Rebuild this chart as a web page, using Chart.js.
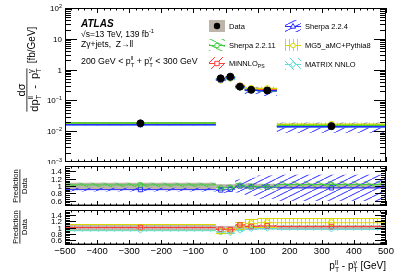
<!DOCTYPE html>
<html>
<head>
<meta charset="utf-8">
<script src="https://cdn.jsdelivr.net/npm/chart.js@4.4.1/dist/chart.umd.min.js"></script>
<style>
  body { margin: 0; background: #fff; width: 407px; height: 276px; overflow: hidden; position: relative; }
  canvas { position: absolute; left: 0; }
</style>
</head>
<body>
<canvas id="cMain" width="407" height="164" style="top:0"></canvas>
<canvas id="cR1" width="407" height="50" style="top:161px"></canvas>
<canvas id="cR2" width="407" height="71" style="top:205px"></canvas>
<script>
// bins of pT(ll) - pT(gamma) [GeV]
const binEdges = [-500, -30, 0, 30, 60, 100, 160, 500];

// main panel, dsigma/dx [fb/GeV]
const dataVals = [0.018, 0.52, 0.59, 0.28, 0.22, 0.21, 0.0146];
const dataErr = [0.09, 0.05, 0.05, 0.06, 0.07, 0.06, 0.07];
const sherpa224Vals = [0.0163, 0.46, 0.54, 0.28, 0.215, 0.205, 0.0139];
const sherpa2211Vals = [0.0185, 0.49, 0.57, 0.285, 0.218, 0.206, 0.0152];
const mg5Vals = [0.018, 0.45, 0.53, 0.294, 0.246, 0.242, 0.0168];
const minnloVals = [0.018, 0.49, 0.55, 0.302, 0.227, 0.22, 0.015];
const matrixVals = [0.0162, 0.45, 0.48, 0.252, 0.209, 0.2, 0.0137];

// ratio panels, prediction / data
const sherpa224Ratio = [0.90, 0.89, 0.91, 1.00, 0.98, 0.97, 0.95];
const sherpa224Err = [0.05, 0.08, 0.10, 0.18, 0.25, 0.32, 0.36];
const sherpa2211Ratio = [1.03, 0.95, 0.96, 1.02, 0.99, 0.98, 1.04];
const sherpa2211Err = [0.06, 0.06, 0.06, 0.07, 0.08, 0.08, 0.09];
const mg5Ratio = [1.00, 0.87, 0.89, 1.05, 1.12, 1.15, 1.15];
const mg5Err = [0.10, 0.08, 0.08, 0.12, 0.15, 0.15, 0.14];
const minnloRatio = [1.00, 0.94, 0.93, 1.08, 1.03, 1.05, 1.03];
const minnloErr = [0.03, 0.03, 0.03, 0.04, 0.04, 0.04, 0.04];
const matrixRatio = [0.90, 0.86, 0.82, 0.90, 0.95, 0.96, 0.94];
const matrixErr = [0.03, 0.03, 0.03, 0.04, 0.04, 0.04, 0.04];

// axes
const xTicks = [-500, -400, -300, -200, -100, 0, 100, 200, 300, 400, 500];
const xTickLabels = ['\u2212500', '\u2212400', '\u2212300', '\u2212200', '\u2212100', '0', '100', '200', '300', '400', '500'];
const yMainTicks = [1e-3, 1e-2, 1e-1, 1, 10, 100];
const yMainTickLabels = [['10', '\u22123'], ['10', '\u22122'], ['10', '\u22121'], ['1', ''], ['10', ''], ['10', '2']];
const ratioTicks = [0.6, 0.8, 1, 1.2, 1.4];
const ratioTickLabels = ['0.6', '0.8', '1', '1.2', '1.4'];

const FONT = '"Liberation Sans", Arial, Helvetica, sans-serif';
Chart.defaults.font.family = FONT;
Chart.defaults.color = '#000';

const COL = {
    data: '#bdb5aa',
    blue: '#2a2aff',
    green: '#3ccc3c',
    red: '#ff3b3b',
    yellow: '#d8d800',
    cyan: '#5fdcdc'
};

/**
 * Hatch patterns
 */
function hatch(color, kind) {
    const c = document.createElement('canvas');
    const g = c.getContext('2d');
    let w = 8, h = 8;
    if (kind === 'shallowUp' || kind === 'shallowDown') { w = 12; h = 6; }
    if (kind === 'vert') { w = 4; h = 4; }
    c.width = w; c.height = h;
    g.strokeStyle = color;
    g.lineWidth = 1;
    g.beginPath();
    for (let k = -1; k <= 1; k++) {
        if (kind === 'shallowUp' || kind === 'up') {
            g.moveTo(k * w, h); g.lineTo(k * w + w, 0);
        } else if (kind === 'shallowDown' || kind === 'down') {
            g.moveTo(k * w, 0); g.lineTo(k * w + w, h);
        }
    }
    if (kind === 'vert') { g.moveTo(1.5, 0); g.lineTo(1.5, h); }
    g.stroke();
    return g.createPattern(c, 'repeat');
}

const PAT = {
    blue: hatch(COL.blue, 'shallowUp'),
    green: hatch(COL.green, 'shallowDown'),
    red: hatch(COL.red, 'up'),
    yellow: hatch(COL.yellow, 'vert'),
    cyan: hatch(COL.cyan, 'down')
};

/**
 * Rich text helper (superscripts / subscripts)
 */
function setFont(ctx, size, style) { ctx.font = `${style || ''} ${size}px ${FONT}`; }

function runRich(ctx, x, y, parts, size, draw, style) {
    let cx = x;
    const small = size * 0.68;
    parts.forEach(p => {
        if (typeof p === 'string') {
            setFont(ctx, size, style);
            if (draw) ctx.fillText(p, cx, y);
            cx += ctx.measureText(p).width;
        } else if (p[0] === '^' || p[0] === '_') {
            setFont(ctx, small, style);
            const dy = p[0] === '^' ? -size * 0.42 : size * 0.28;
            if (draw) ctx.fillText(p[1], cx, y + dy);
            cx += ctx.measureText(p[1]).width;
        } else {
            setFont(ctx, small, style);
            const w = Math.max(ctx.measureText(p[1]).width, ctx.measureText(p[2]).width);
            if (draw) {
                ctx.fillText(p[1], cx, y - size * 0.42);
                ctx.fillText(p[2], cx, y + size * 0.32);
            }
            cx += w;
        }
    });
    return cx - x;
}

function drawRich(ctx, x, y, parts, size, align, style) {
    ctx.textAlign = 'left';
    ctx.textBaseline = 'alphabetic';
    const w = runRich(ctx, 0, 0, parts, size, false, style);
    const sx = align === 'right' ? x - w : align === 'center' ? x - w / 2 : x;
    runRich(ctx, sx, y, parts, size, true, style);
    return w;
}

/**
 * Dataset builders
 */
function segs(vals) {
    const out = [];
    vals.forEach((v, i) => {
        out.push({ x: binEdges[i], y: v }, { x: binEdges[i + 1], y: v }, { x: binEdges[i + 1], y: null });
    });
    return out;
}
function centers(vals) {
    return vals.map((v, i) => ({ x: (binEdges[i] + binEdges[i + 1]) / 2, y: v }));
}
function lineSet(vals, color, width) {
    return { type: 'line', data: segs(vals), borderColor: color, borderWidth: width, pointRadius: 0, spanGaps: false, order: 5 };
}
function markSet(vals, color, style, r) {
    return { type: 'line', showLine: false, data: centers(vals), pointStyle: style, pointRadius: r, borderWidth: 1, borderColor: color, backgroundColor: 'rgba(0,0,0,0)', order: 2 };
}

/**
 * Band plugin (hatched uncertainty boxes per bin)
 */
function bandPlugin(items) {
    return {
        id: 'bands',
        beforeDatasetsDraw(chart) {
            const { ctx, chartArea: a, scales: { x, y } } = chart;
            ctx.save();
            ctx.beginPath();
            ctx.rect(a.left, a.top, a.right - a.left, a.bottom - a.top);
            ctx.clip();
            items.forEach(it => {
                it.lo.forEach((lo, i) => {
                    const x0 = x.getPixelForValue(binEdges[i]);
                    const x1 = x.getPixelForValue(binEdges[i + 1]);
                    const y0 = y.getPixelForValue(it.hi[i]);
                    const y1 = y.getPixelForValue(lo);
                    ctx.fillStyle = it.fill;
                    ctx.fillRect(x0, y0, x1 - x0, y1 - y0);
                    if (it.edge) {
                        ctx.strokeStyle = it.edge;
                        ctx.lineWidth = 1;
                        ctx.beginPath();
                        ctx.moveTo(x0, Math.round(y0) + 0.5); ctx.lineTo(x1, Math.round(y0) + 0.5);
                        ctx.moveTo(x0, Math.round(y1) - 0.5); ctx.lineTo(x1, Math.round(y1) - 0.5);
                        ctx.stroke();
                    }
                });
            });
            ctx.restore();
        }
    };
}

/**
 * Frame plugin: box + inward ticks on all four sides, tick labels
 */
function framePlugin(yMajor, yMinor, yMajLen, yMinLen, yLabel, xLabels, heavyBottom) {
    return {
        id: 'frame',
        afterDatasetsDraw(chart) {
            const { ctx, chartArea: a, scales: { x, y } } = chart;
            ctx.save();
            if (heavyBottom) {
                ctx.fillStyle = '#8c8c8c';
                ctx.fillRect(a.left, a.bottom - 2, a.right - a.left, 2);
            }
            ctx.strokeStyle = '#000';
            ctx.lineWidth = 1;
            ctx.strokeRect(a.left + 0.5, a.top + 0.5, a.right - a.left - 1, a.bottom - a.top - 1);
            ctx.beginPath();
            for (let v = -500; v <= 500; v += 20) {
                const px = Math.round(x.getPixelForValue(v)) + 0.5;
                const L = xTicks.includes(v) ? 5 : 2.5;
                ctx.moveTo(px, a.bottom); ctx.lineTo(px, a.bottom - L);
                ctx.moveTo(px, a.top); ctx.lineTo(px, a.top + L);
            }
            const tick = (v, L) => {
                const py = Math.round(y.getPixelForValue(v)) + 0.5;
                if (py < a.top || py > a.bottom) return;
                ctx.moveTo(a.left, py); ctx.lineTo(a.left + L, py);
                ctx.moveTo(a.right, py); ctx.lineTo(a.right - L, py);
            };
            yMinor.forEach(v => tick(v, yMinLen));
            yMajor.forEach(v => tick(v, yMajLen));
            ctx.stroke();
            ctx.fillStyle = '#000';
            yMajor.forEach((v, i) => yLabel(ctx, y.getPixelForValue(v), i));
            if (xLabels) {
                xTicks.forEach((v, i) => drawRich(ctx, x.getPixelForValue(v), a.bottom + 9, [xLabels[i]], 9.5, 'center'));
            }
            ctx.restore();
        }
    };
}

function baseScales(yOpts) {
    return {
        x: { type: 'linear', min: -500, max: 500, display: false },
        y: Object.assign({
            grid: { display: false, drawTicks: false }, border: { display: false },
            ticks: { display: false },
            afterFit: s => { s.width = 65; }
        }, yOpts)
    };
}

function layoutPad(top, bottom) {
    return { autoPadding: false, padding: { left: 0, right: 21, top: top, bottom: bottom } };
}

/**
 * Main panel
 */
const logMinor = [];
[1e-3, 1e-2, 1e-1, 1, 10].forEach(d => { for (let k = 2; k <= 9; k++) logMinor.push(d * k); });

const mainYLabel = (ctx, py, i) => {
    const [base, sup] = yMainTickLabels[i];
    drawRich(ctx, 62, py + 3, sup ? [base, ['^', sup]] : [base], 8, 'right');
};

const mainText = {
    id: 'mainText',
    afterDraw(chart) {
        const { ctx } = chart;
        ctx.save();
        ctx.fillStyle = '#000';
        // y title
        ctx.save();
        ctx.translate(27, 90);
        ctx.rotate(-Math.PI / 2);
        const den = ['dp', ['^_', 'll', 'T'], '  -  p', ['^_', '\u03b3', 'T']];
        const dw = drawRich(ctx, 0, 10.5, den, 11, 'center');
        drawRich(ctx, 0, -2.5, ['d\u03c3'], 11, 'center');
        ctx.fillRect(-dw / 2, -0.5, dw, 0.8);
        drawRich(ctx, dw / 2 + 5, 7.5, ['[fb/GeV]'], 10, 'left');
        ctx.restore();
        // ATLAS labels
        drawRich(ctx, 81, 27, ['ATLAS'], 10, 'left', 'italic bold');
        drawRich(ctx, 81, 37, ['\u221as=13 TeV, 139 fb', ['^', '-1']], 8.5, 'left');
        drawRich(ctx, 81, 47, ['Z\u03b3+jets,  Z\u2192ll'], 8.5, 'left');
        drawRich(ctx, 81, 64, ['200 GeV < p', ['^_', 'll', 'T'], ' + p', ['^_', '\u03b3', 'T'], ' < 300 GeV'], 8.8, 'left');
        // legend
        const entries = [
            { x: 209, y: 26, label: ['Data'], kind: 'data' },
            { x: 209, y: 45, label: ['Sherpa 2.2.11'], fill: PAT.green, color: COL.green, mk: 'circle' },
            { x: 209, y: 63, label: ['MiNNLO', ['_', 'PS']], fill: PAT.red, color: COL.red, mk: 'rect' },
            { x: 285, y: 26, label: ['Sherpa 2.2.4'], fill: PAT.blue, color: COL.blue, mk: 'tri' },
            { x: 285, y: 45, label: ['MG5_aMC+Pythia8'], fill: PAT.yellow, color: COL.yellow, mk: 'circle' },
            { x: 285, y: 64, label: ['MATRIX NNLO'], fill: PAT.cyan, color: COL.cyan, mk: 'diamond' }
        ];
        entries.forEach(e => {
            const bx = e.x, by = e.y - 6, cx = e.x + 8, cy = e.y;
            if (e.kind === 'data') {
                ctx.fillStyle = COL.data;
                ctx.fillRect(bx, by, 16, 12);
                ctx.fillStyle = '#000';
                ctx.beginPath(); ctx.arc(cx, cy, 3.2, 0, 2 * Math.PI); ctx.fill();
            } else {
                ctx.fillStyle = e.fill;
                ctx.fillRect(bx, by, 16, 12);
                ctx.strokeStyle = e.color;
                ctx.lineWidth = 1;
                ctx.beginPath(); ctx.moveTo(bx, cy + 0.5); ctx.lineTo(bx + 16, cy + 0.5); ctx.stroke();
                ctx.beginPath();
                if (e.mk === 'circle') ctx.arc(cx, cy + 0.5, 2.3, 0, 2 * Math.PI);
                else if (e.mk === 'rect') ctx.rect(cx - 2.2, cy - 1.7, 4.4, 4.4);
                else if (e.mk === 'tri') { ctx.moveTo(cx, cy - 2.5); ctx.lineTo(cx + 2.7, cy + 2.2); ctx.lineTo(cx - 2.7, cy + 2.2); ctx.closePath(); }
                else { ctx.moveTo(cx, cy - 2.5); ctx.lineTo(cx + 2.5, cy + 0.5); ctx.lineTo(cx, cy + 3.5); ctx.lineTo(cx - 2.5, cy + 0.5); ctx.closePath(); }
                ctx.fillStyle = '#fff';
                ctx.fill();
                ctx.stroke();
            }
            ctx.fillStyle = '#000';
            drawRich(ctx, e.x + 20, e.y + 3, e.label, 7.5, 'left');
        });
        ctx.restore();
    }
};

const up = (vals, errs) => vals.map((v, i) => v * (1 + errs[i]));
const dn = (vals, errs) => vals.map((v, i) => v * (1 - errs[i]));
const rUp = (vals, errs) => vals.map((v, i) => v + errs[i]);
const rDn = (vals, errs) => vals.map((v, i) => v - errs[i]);
const ones = dataVals.map(() => 1);

new Chart(document.getElementById('cMain'), {
    type: 'line',
    data: {
        datasets: [
            lineSet(sherpa224Vals, COL.blue, 1.5),
            lineSet(sherpa2211Vals, COL.green, 1.5),
            lineSet(mg5Vals, COL.yellow, 1.5),
            lineSet(matrixVals, COL.cyan, 1.5),
            lineSet(minnloVals, COL.red, 1.5),
            markSet(sherpa224Vals, COL.blue, 'rect', 3),
            markSet(sherpa2211Vals, COL.green, 'circle', 2.5),
            markSet(mg5Vals, COL.yellow, 'circle', 3),
            markSet(matrixVals, COL.cyan, 'rectRot', 2.5),
            markSet(minnloVals, COL.red, 'rect', 3.2),
            { type: 'line', showLine: false, data: centers(dataVals), pointRadius: 3.5, backgroundColor: '#000', borderColor: '#000', order: 0 }
        ]
    },
    options: {
        responsive: false, animation: false,
        layout: layoutPad(8, 2),
        plugins: { legend: { display: false }, tooltip: { enabled: false } },
        scales: baseScales({ type: 'logarithmic', min: 1e-3, max: 100 })
    },
    plugins: [
        bandPlugin([
            { lo: dn(dataVals, dataErr), hi: up(dataVals, dataErr), fill: COL.data },
            { lo: dn(sherpa2211Vals, sherpa2211Err), hi: up(sherpa2211Vals, sherpa2211Err), fill: PAT.green },
            { lo: dn(sherpa224Vals, sherpa224Err), hi: up(sherpa224Vals, sherpa224Err), fill: PAT.blue },
            { lo: dn(matrixVals, matrixErr), hi: up(matrixVals, matrixErr), fill: PAT.cyan },
            { lo: dn(minnloVals, minnloErr), hi: up(minnloVals, minnloErr), fill: PAT.red },
            { lo: dn(mg5Vals, mg5Err), hi: up(mg5Vals, mg5Err), fill: PAT.yellow }
        ]),
        framePlugin(yMainTicks, logMinor, 12, 6, mainYLabel, null, false),
        mainText
    ]
});

/**
 * Ratio panels
 */
const ratioMinor = [];
for (let k = 9; k <= 31; k++) ratioMinor.push(k * 0.05);

const ratioYLabel = (ctx, py, i) => drawRich(ctx, 62, py + 3, [ratioTickLabels[i]], 8, 'right');

function ratioTitle(cy) {
    return {
        id: 'ratioTitle',
        afterDraw(chart) {
            const { ctx } = chart;
            ctx.save();
            ctx.fillStyle = '#000';
            ctx.translate(20, cy);
            ctx.rotate(-Math.PI / 2);
            const w = drawRich(ctx, 0, -2, ['Prediction'], 7.5, 'center');
            drawRich(ctx, 0, 7, ['Data'], 7.5, 'center');
            ctx.fillRect(-w / 2, -0.5, w, 0.8);
            ctx.restore();
        }
    };
}

const ratioY = () => ({ type: 'linear', min: 0.45, max: 1.55 });

new Chart(document.getElementById('cR1'), {
    type: 'line',
    data: {
        datasets: [
            lineSet(sherpa2211Ratio, COL.green, 1),
            lineSet(sherpa224Ratio, COL.blue, 1),
            markSet(sherpa2211Ratio, COL.green, 'circle', 2.5),
            markSet(sherpa224Ratio, COL.blue, 'rect', 3)
        ]
    },
    options: {
        responsive: false, animation: false,
        layout: layoutPad(5, 5),
        plugins: { legend: { display: false }, tooltip: { enabled: false } },
        scales: baseScales(ratioY())
    },
    plugins: [
        bandPlugin([
            { lo: rDn(ones, dataErr), hi: rUp(ones, dataErr), fill: COL.data },
            { lo: rDn(sherpa2211Ratio, sherpa2211Err), hi: rUp(sherpa2211Ratio, sherpa2211Err), fill: PAT.green },
            { lo: rDn(sherpa224Ratio, sherpa224Err), hi: rUp(sherpa224Ratio, sherpa224Err), fill: PAT.blue }
        ]),
        framePlugin(ratioTicks, ratioMinor, 11, 5, ratioYLabel, null, true),
        ratioTitle(25)
    ]
});

const xTitle = {
    id: 'xTitle',
    afterDraw(chart) {
        const { ctx, chartArea: a } = chart;
        ctx.save();
        ctx.fillStyle = '#000';
        drawRich(ctx, a.right, 64, ['p', ['^_', 'll', 'T'], ' - p', ['^_', '\u03b3', 'T'], ' [GeV]'], 10, 'right');
        ctx.restore();
    }
};

new Chart(document.getElementById('cR2'), {
    type: 'line',
    data: {
        datasets: [
            lineSet(matrixRatio, COL.cyan, 1),
            lineSet(minnloRatio, COL.red, 1),
            lineSet(mg5Ratio, COL.yellow, 1),
            markSet(matrixRatio, COL.cyan, 'rectRot', 2.5),
            markSet(minnloRatio, COL.red, 'rect', 3.2),
            markSet(mg5Ratio, COL.yellow, 'circle', 3)
        ]
    },
    options: {
        responsive: false, animation: false,
        layout: layoutPad(5, 31),
        plugins: { legend: { display: false }, tooltip: { enabled: false } },
        scales: baseScales(ratioY())
    },
    plugins: [
        bandPlugin([
            { lo: rDn(ones, dataErr), hi: rUp(ones, dataErr), fill: COL.data },
            { lo: rDn(matrixRatio, matrixErr), hi: rUp(matrixRatio, matrixErr), fill: PAT.cyan },
            { lo: rDn(minnloRatio, minnloErr), hi: rUp(minnloRatio, minnloErr), fill: PAT.red },
            { lo: rDn(mg5Ratio, mg5Err), hi: rUp(mg5Ratio, mg5Err), fill: PAT.yellow, edge: COL.yellow }
        ]),
        framePlugin(ratioTicks, ratioMinor, 11, 5, ratioYLabel, xTickLabels, true),
        ratioTitle(22),
        xTitle
    ]
});
</script>
</body>
</html>
